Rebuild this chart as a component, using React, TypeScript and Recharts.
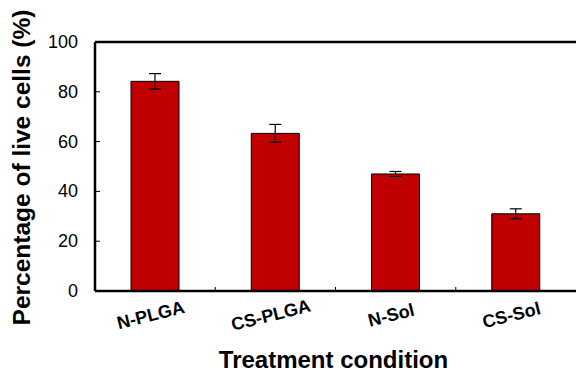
import React from 'react';
import {
  BarChart,
  Bar,
  XAxis,
  YAxis,
  ErrorBar,
  ReferenceLine,
  Label
} from 'recharts';

const categories = ['N-PLGA', 'CS-PLGA', 'N-Sol', 'CS-Sol'];
const liveCells = [84.2, 63.3, 47.0, 31.0];
const errors = [3.1, 3.6, 1.0, 2.0];
const yTicks = [0, 20, 40, 60, 80, 100];

const data = categories.map((name, i) => ({ name, value: liveCells[i], err: errors[i] }));

const FONT = "'Liberation Sans', Arial, sans-serif";

const YTick = (props: any) => {
  const { x, y, payload } = props;
  return (
    <g>
      <line x1={x + 17} y1={y} x2={x + 22} y2={y} stroke="#000" strokeWidth={1} />
      <text x={x} y={y} textAnchor="end" dominantBaseline="central" fontSize={18} fontFamily={FONT} fill="#000">
        {payload.value}
      </text>
    </g>
  );
};

const XTick = (props: any) => {
  const { x, y, payload, index, width, visibleTicksCount } = props;
  const half = width && visibleTicksCount ? width / visibleTicksCount / 2 : 60;
  return (
    <g>
      {index > 0 && <line x1={x - half} y1={y - 4} x2={x - half} y2={y} stroke="#000" strokeWidth={1} />}
      <text
        transform={`translate(${x - 3},${y + 30}) rotate(-14)`}
        textAnchor="middle"
        fontSize={18}
        fontWeight="bold"
        fontFamily={FONT}
        fill="#000"
      >
        {payload.value}
      </text>
    </g>
  );
};

const XTitle = (props: any) => {
  const { x, y, width } = props.viewBox;
  return (
    <text x={x + width / 2 - 2} y={y + 77} textAnchor="middle" fontSize={24} fontWeight="bold" fontFamily={FONT} fill="#000">
      Treatment condition
    </text>
  );
};

const YTitle = (props: any) => {
  const { y, height } = props.viewBox;
  return (
    <text
      transform={`translate(30,${y + height / 2 + 1}) rotate(-90)`}
      textAnchor="middle"
      fontSize={24.5}
      fontWeight="bold"
      fontFamily={FONT}
      fill="#000"
    >
      Percentage of live cells (%)
    </text>
  );
};

export default function App() {
  return (
    <div style={{ position: 'absolute', left: 0, top: 0, width: 576, height: 372, background: '#fff' }}>
      <BarChart width={576} height={372} data={data} margin={{ top: 42, right: 0, left: 0, bottom: 21 }}>
        <XAxis
          dataKey="name"
          height={60}
          axisLine={{ stroke: '#000', strokeWidth: 2.5 }}
          tickLine={false}
          tickSize={0}
          tickMargin={0}
          tick={<XTick />}
          interval={0}
        >
          <Label content={<XTitle />} />
        </XAxis>
        <YAxis
          width={95}
          domain={[0, 100]}
          ticks={yTicks}
          axisLine={{ stroke: '#000', strokeWidth: 2.5 }}
          tickLine={false}
          tickSize={0}
          tickMargin={17}
          tick={<YTick />}
        >
          <Label content={<YTitle />} />
        </YAxis>
        <ReferenceLine y={100} stroke="#000" strokeWidth={2.5} />
        <Bar dataKey="value" fill="#C00000" stroke="#000" strokeWidth={1} barSize={48} isAnimationActive={false}>
          <ErrorBar dataKey="err" width={6} stroke="#000" strokeWidth={1.2} isAnimationActive={false} />
        </Bar>
      </BarChart>
    </div>
  );
}
